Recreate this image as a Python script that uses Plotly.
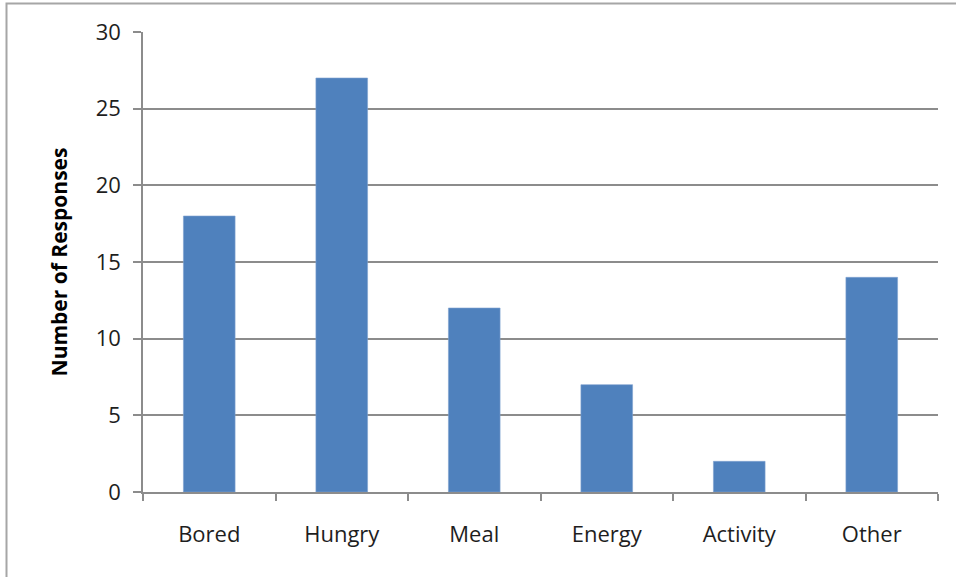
import plotly.graph_objects as go

# Survey responses per reason
categories = ["Bored", "Hungry", "Meal", "Energy", "Activity", "Other"]
responses = [18, 27, 12, 7, 2, 14]
y_ticks = [0, 5, 10, 15, 20, 25, 30]

BAR_COLOR = "#4F81BD"
GRID_COLOR = "#8C8C8C"
TEXT_COLOR = "#1E1E1E"
FONT = "Open Sans"

fig = go.Figure(
    go.Bar(
        x=categories,
        y=responses,
        marker=dict(color=BAR_COLOR, line=dict(color="#7FA2D0", width=0.6)),
        hoverinfo="x+y",
    )
)

L, R, T, B = 143, 18, 32, 85
W, H = 956, 577
pw, ph = W - L - R, H - T - B

fig.update_layout(
    width=W,
    height=H,
    margin=dict(l=L, r=R, t=T, b=B, pad=0),
    paper_bgcolor="white",
    plot_bgcolor="white",
    bargap=0.61,
    showlegend=False,
    font=dict(family=FONT, color=TEXT_COLOR, size=23),
    xaxis=dict(
        type="category",
        tickson="boundaries",
        ticks="outside",
        ticklen=7,
        tickwidth=1.5,
        tickcolor=GRID_COLOR,
        showline=True,
        linecolor=GRID_COLOR,
        linewidth=1.5,
        showgrid=False,
        ticklabelstandoff=22,
        tickfont=dict(family=FONT, size=22, color=TEXT_COLOR),
    ),
    yaxis=dict(
        range=[0, 30],
        tickvals=y_ticks,
        ticktext=[str(v) for v in y_ticks],
        ticks="outside",
        ticklen=8,
        tickwidth=1.5,
        tickcolor=GRID_COLOR,
        showline=True,
        linecolor=GRID_COLOR,
        linewidth=1.5,
        showgrid=True,
        gridcolor=GRID_COLOR,
        gridwidth=1.5,
        zeroline=False,
        ticklabelstandoff=8,
        tickfont=dict(family=FONT, size=22, color=TEXT_COLOR),
        title=dict(
            text="<b>Number of Responses</b>",
            font=dict(family=FONT, size=21, color="#000000"),
            standoff=22,
        ),
    ),
)

# Chart-area frame
fig.add_shape(
    type="rect",
    xref="paper",
    yref="paper",
    x0=(6.5 - L) / pw,
    x1=(W + 10 - L) / pw,
    y0=-(H + 10 - T - ph) / ph,
    y1=1 + (T - 3.5) / ph,
    line=dict(color="#A6A6A6", width=2),
    fillcolor="rgba(0,0,0,0)",
    layer="below",
)

fig.write_html("out.html")
